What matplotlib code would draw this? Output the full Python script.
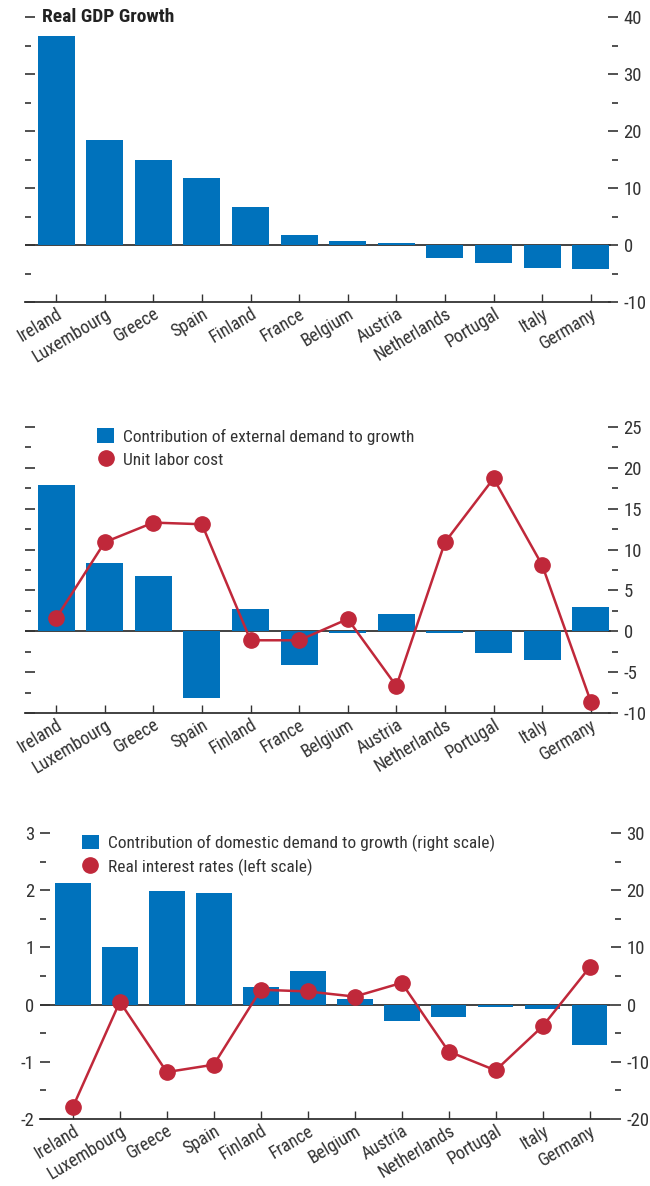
import numpy as np
import matplotlib.pyplot as plt
from matplotlib import font_manager
from matplotlib.ticker import MultipleLocator

# narrow face if present, otherwise DejaVu condensed
_names = {f.name for f in font_manager.fontManager.ttflist}
_narrow = [n for n in ["Liberation Sans Narrow", "Roboto Condensed", "Open Sans Condensed"] if n in _names]
plt.rcParams['font.family'] = _narrow + ['DejaVu Sans']
plt.rcParams['font.stretch'] = 'condensed'
plt.rcParams['axes.unicode_minus'] = False

countries = ["Ireland", "Luxembourg", "Greece", "Spain", "Finland", "France",
             "Belgium", "Austria", "Netherlands", "Portugal", "Italy", "Germany"]

gdp_growth = [36.7, 18.4, 14.9, 11.8, 6.6, 1.8, 0.7, 0.35, -2.2, -3.1, -4.0, -4.2]

external_demand = [17.9, 8.3, 6.8, -8.2, 2.7, -4.1, -0.2, 2.1, -0.2, -2.6, -3.5, 3.0]
unit_labor_cost = [1.6, 10.9, 13.3, 13.1, -1.1, -1.1, 1.5, -6.7, 10.9, 18.7, 8.1, -8.6]

domestic_demand = [21.3, 10.1, 19.9, 19.5, 3.1, 5.9, 0.9, -2.8, -2.1, -0.5, -0.7, -7.1]
real_rates = [-1.79, 0.05, -1.18, -1.05, 0.26, 0.23, 0.14, 0.38, -0.82, -1.15, -0.38, 0.65]

BLUE = "#0072bc"
RED = "#c0283a"
GREY = "#333333"
W, H = 650, 1186


def box(left, right, top, bottom):
    return [left / W, 1 - bottom / H, (right - left) / W, (bottom - top) / H]


def style(ax, xlim, spine_end):
    x = np.arange(len(countries))
    ax.set_xlim(*xlim)
    for s in ["top", "left", "right"]:
        ax.spines[s].set_visible(False)
    ax.spines["bottom"].set_bounds(xlim[0], spine_end)
    ax.spines["bottom"].set_color(GREY)
    ax.spines["bottom"].set_linewidth(1.3)
    ax.axhline(0, xmin=0, xmax=(spine_end - xlim[0]) / (xlim[1] - xlim[0]),
               color=GREY, lw=1.3, zorder=1)
    ax.set_xticks(x)
    ax.set_xticklabels(countries, rotation=31, ha="right", va="top",
                       rotation_mode="anchor", fontsize=13, color=GREY)
    ax.tick_params(axis="x", direction="in", length=6, width=1, color=GREY, pad=2)


def yticks(ax, major, minor, **kw):
    ax.yaxis.set_major_locator(MultipleLocator(major))
    ax.yaxis.set_minor_locator(MultipleLocator(minor))
    ax.tick_params(axis="y", which="both", direction="in", color=GREY,
                   labelsize=13.5, labelcolor=GREY, pad=4, **kw)
    ax.tick_params(axis="y", which="major", length=7, width=1.2)
    ax.tick_params(axis="y", which="minor", length=4, width=1.2)


def dot_handle(label):
    return plt.Line2D([], [], ls="none", marker="o", markersize=11,
                      color=RED, label=label)


fig = plt.figure(figsize=(W / 100, H / 100), dpi=100)
x = np.arange(len(countries))

# Panel 1
ax1 = fig.add_axes(box(25, 618, 17, 302))
ax1.bar(x, gdp_growth, width=0.76, color=BLUE, zorder=2)
ax1.set_ylim(-10, 40)
style(ax1, (-0.64, 11.56), 11.4)
yticks(ax1, 10, 5, left=True, right=True, labelleft=False, labelright=True)
ax1.text(0.029, 1.0, "Real GDP Growth", transform=ax1.transAxes, fontsize=14,
         fontweight="bold", va="center", ha="left", color="#222222")

# Panel 2
ax2 = fig.add_axes(box(25, 618, 427, 713))
b2 = ax2.bar(x, external_demand, width=0.76, color=BLUE, zorder=2,
             label="Contribution of external demand to growth")
ax2.plot(x, unit_labor_cost, color=RED, lw=1.8, marker="o", markersize=11, zorder=3)
ax2.set_ylim(-10, 25)
style(ax2, (-0.64, 11.56), 11.4)
yticks(ax2, 5, 2.5, left=True, right=True, labelleft=False, labelright=True)
ax2.legend(handles=[b2, dot_handle("Unit labor cost")], loc="upper left",
           bbox_to_anchor=(0.095, 1.05), frameon=False, fontsize=12.5,
           handlelength=1.0, handleheight=0.9, handletextpad=0.5,
           labelspacing=0.4, labelcolor=GREY)

# Panel 3
ax3 = fig.add_axes(box(40, 621, 833, 1119))
b3 = ax3.bar(x, domestic_demand, width=0.76, color=BLUE, zorder=2,
             label="Contribution of domestic demand to growth (right scale)")
ax3.set_ylim(-20, 30)
style(ax3, (-0.70, 11.67), 11.43)

ax3b = ax3.twinx()
ax3b.plot(x, real_rates, color=RED, lw=1.8, marker="o", markersize=11, zorder=3)
ax3b.set_ylim(-2, 3)
for s in ax3b.spines.values():
    s.set_visible(False)

ax3.yaxis.tick_right()
yticks(ax3, 10, 5)
ax3b.yaxis.tick_left()
yticks(ax3b, 1, 0.5)
ax3b.legend(handles=[b3, dot_handle("Real interest rates (left scale)")],
            loc="upper left", bbox_to_anchor=(0.045, 1.05), frameon=False,
            fontsize=12.5, handlelength=1.0, handleheight=0.9, handletextpad=0.5,
            labelspacing=0.4, labelcolor=GREY)

fig.savefig("out.png", dpi=100)
